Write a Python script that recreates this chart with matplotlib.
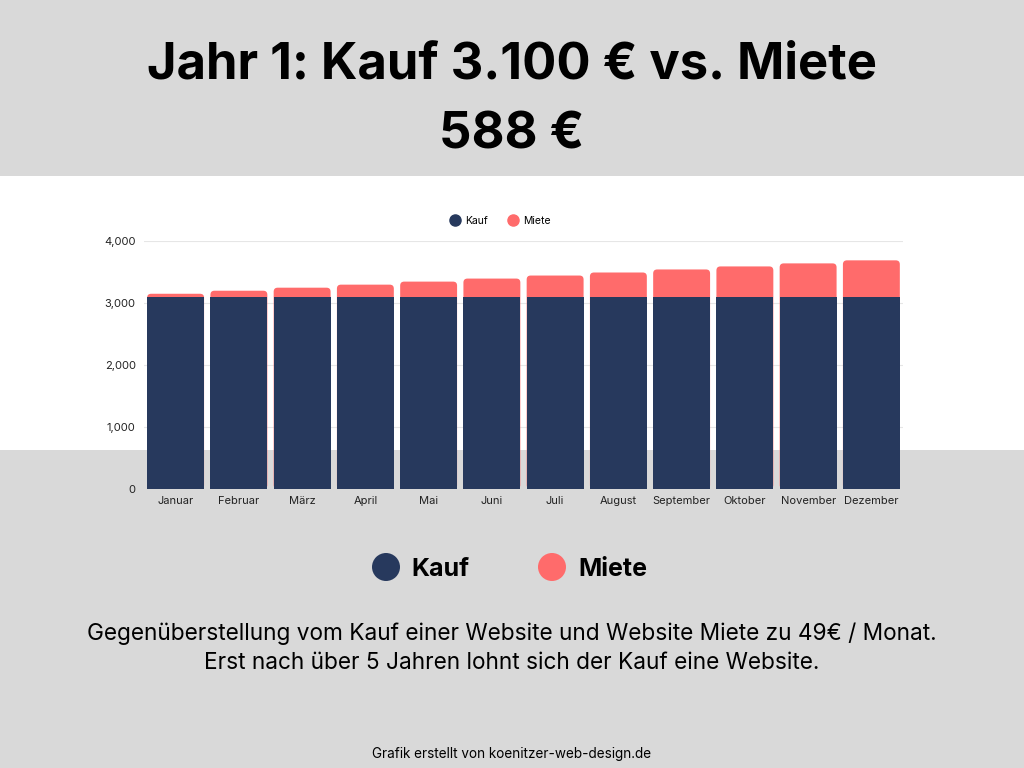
import matplotlib
matplotlib.use("Agg")
import matplotlib.pyplot as plt
from matplotlib.patches import Rectangle, Ellipse, FancyBboxPatch
from matplotlib.lines import Line2D

plt.rcParams['font.family'] = ['Inter', 'DejaVu Sans']

months = ["Januar", "Februar", "März", "April", "Mai", "Juni", "Juli",
          "August", "September", "Oktober", "November", "Dezember"]
kauf = [3100] * 12
miete = [49, 98, 147, 196, 245, 294, 343, 392, 441, 490, 539, 588]
yticks = [0, 1000, 2000, 3000, 4000]
ytick_labels = ["0", "1,000", "2,000", "3,000", "4,000"]

NAVY = "#27395d"
CORAL = "#ff6b6b"
GRAY = "#d9d9d9"

W, H = 1024, 768
fig = plt.figure(figsize=(W / 100, H / 100), dpi=100, facecolor=GRAY)

# white band behind chart
fig.patches.append(Rectangle((0, 1 - 450 / H), 1, (450 - 176) / H,
                             transform=fig.transFigure, facecolor="white",
                             edgecolor="none", zorder=-5))

AX_L, AX_R, AX_T, AX_B = 144, 903, 241, 489
ax = fig.add_axes([AX_L / W, 1 - AX_B / H, (AX_R - AX_L) / W, (AX_B - AX_T) / H])
ax.set_zorder(2)
ax.set_facecolor("none")
x = list(range(len(months)))
ax.set_xlim(-0.5, 11.5)
ax.set_ylim(0, 4000)

# Miete segments (rounded top corners), drawn behind Kauf
mbars = ax.bar(x, miete, bottom=kauf, width=0.9, color=CORAL, zorder=2)
px_per_x = (AX_R - AX_L) / 12.0
px_per_y = (AX_B - AX_T) / 4000.0
r_px = 4.0
r_x = r_px / px_per_x
aspect = (r_px / px_per_y) / r_x
for p in mbars:
    bx, by = p.get_x(), p.get_y()
    bw, bh = p.get_width(), p.get_height()
    p.set_visible(False)
    fb = FancyBboxPatch((bx, 0), bw, by + bh,
                        boxstyle=f"round,pad=0,rounding_size={r_x}",
                        mutation_aspect=aspect, facecolor=CORAL,
                        edgecolor='none', zorder=2)
    ax.add_patch(fb)
ax.bar(x, kauf, width=0.9, color=NAVY, zorder=3)

ax.set_yticks(yticks)
ax.set_yticklabels(ytick_labels)
ax.set_xticks(x)
ax.set_xticklabels(months)
ax.tick_params(axis='both', length=0, labelsize=8, colors="#222222")
ax.tick_params(axis='x', pad=5)
ax.tick_params(axis='y', pad=6)
for s in ax.spines.values():
    s.set_visible(False)
ax.grid(axis='y', color="#e6e6e6", linewidth=0.8, zorder=0)
ax.set_axisbelow(True)

# small legend
h1 = Line2D([], [], marker='o', linestyle='none', markersize=8, color=NAVY)
h2 = Line2D([], [], marker='o', linestyle='none', markersize=8, color=CORAL)
fig.legend([h1, h2], ["Kauf", "Miete"], loc='center', bbox_to_anchor=(500 / W, 1 - 221 / H),
           ncol=2, frameon=False, fontsize=7.5, handletextpad=0.4, columnspacing=1.8,
           handlelength=1.2)

# title
fig.text(0.5, 1 - 65 / H, "Jahr 1: Kauf 3.100 € vs. Miete", ha='center', va='center',
         fontsize=36.5, fontweight='bold', color="black")
fig.text(0.5, 1 - 135 / H, "588 €", ha='center', va='center',
         fontsize=36.5, fontweight='bold', color="black")

# big legend
fig.patches.append(Ellipse((386 / W, 1 - 567 / H), 28 / W, 28 / H, transform=fig.transFigure,
                           facecolor=NAVY, edgecolor='none'))
fig.patches.append(Ellipse((552 / W, 1 - 567 / H), 28 / W, 28 / H, transform=fig.transFigure,
                           facecolor=CORAL, edgecolor='none'))
fig.text(411 / W, 1 - 569 / H, "Kauf", ha='left', va='center', fontsize=18, fontweight='bold')
fig.text(578 / W, 1 - 569 / H, "Miete", ha='left', va='center', fontsize=18, fontweight='bold')

fig.text(0.5, 1 - 634 / H, "Gegenüberstellung vom Kauf einer Website und Website Miete zu 49€ / Monat.",
         ha='center', va='center', fontsize=16.3)
fig.text(0.5, 1 - 663 / H, "Erst nach über 5 Jahren lohnt sich der Kauf eine Website.",
         ha='center', va='center', fontsize=16.3)
fig.text(0.5, 1 - 754 / H, "Grafik erstellt von koenitzer-web-design.de",
         ha='center', va='center', fontsize=9.75)

fig.savefig("out.png", dpi=100, facecolor=GRAY)
